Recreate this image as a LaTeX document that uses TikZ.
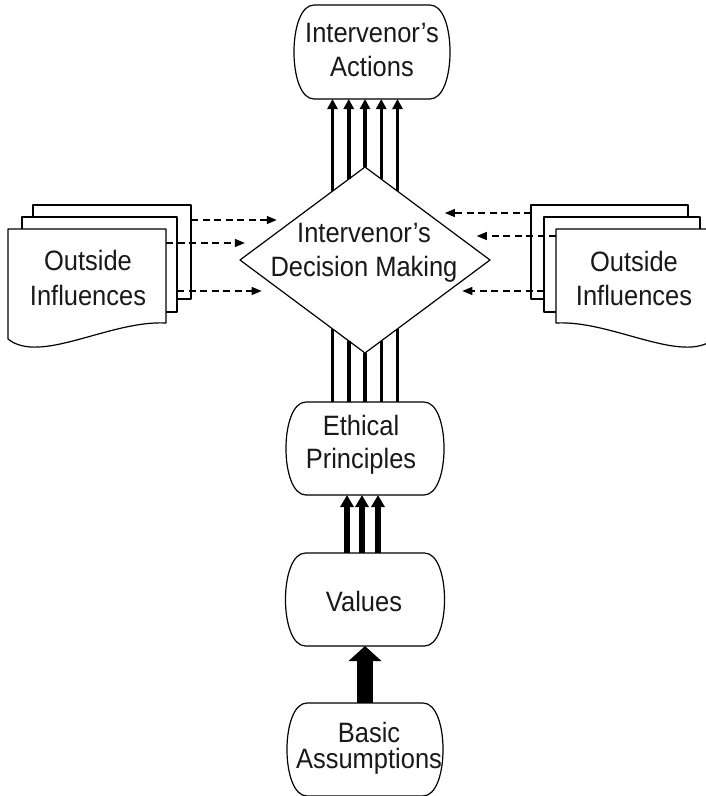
\documentclass[tikz,border=0pt]{standalone}
\usepackage{fontspec}
\setmainfont{Liberation Sans}[FakeStretch=0.91]
\usetikzlibrary{shapes.geometric,arrows.meta,calc}

% a text line whose box runs from cap height down to the baseline
\newcommand\capl[1]{\smash{#1}\rule{0pt}{20pt}}

% rounded "terminal" outline drawn around an empty frame node
\newcommand\termframe[1]{%
  \draw[frame] ([xshift=20pt]#1.north west) -- ([xshift=-20pt]#1.north east)
    .. controls ([xshift=6.7pt]#1.north east) and ([xshift=6.7pt]#1.south east) .. ([xshift=-20pt]#1.south east)
    -- ([xshift=20pt]#1.south west)
    .. controls ([xshift=-6.7pt]#1.south west) and ([xshift=-6.7pt]#1.north west) .. cycle;}

\begin{document}
\begin{tikzpicture}[x=1pt,y=-1pt,line join=round,
  box/.style={rectangle,draw=none,inner sep=0pt,outer sep=0pt},
  frame/.style={draw=black,line width=1.2pt,fill=white},
  sheet/.style={rectangle,draw=black,line width=1.2pt,fill=white,inner sep=0pt,outer sep=0pt},
  txt/.style={inner sep=0pt,outer sep=0pt,align=center,text=black!90,font=\fontsize{28}{34}\selectfont},
  up/.style={line width=3.5pt,-{Triangle[width=10pt,length=10pt]}},
  rail/.style={line width=3.5pt},
  fat/.style={line width=6pt,-{Triangle[width=13pt,length=12pt]}},
  heavy/.style={line width=16pt,-{Triangle[width=32pt,length=15pt]}},
  infl/.style={line width=1.3pt,dash pattern=on 7pt off 4.5pt,-{Triangle[width=8pt,length=10pt]}}
]
\clip (0,0) rectangle (706,796);

% ---- main column -------------------------------------------------
\node[box,minimum width=156pt,minimum height=94pt] (act) at (372,52) {};
\node[box,minimum width=158pt,minimum height=93pt] (eth) at (365,448.5) {};
\node[box,minimum width=159pt,minimum height=93pt] (val) at (365,599.5) {};
\node[box,minimum width=156pt,minimum height=93pt] (bas) at (365,749.5) {};
\termframe{act}
\termframe{eth}
\termframe{val}
\termframe{bas}

\node[diamond,draw=black,line width=1.2pt,fill=white,inner sep=0pt,outer sep=0pt,
      minimum width=250pt,minimum height=186pt] (dia) at (365,260) {};

\node[txt] (actT) at ([yshift=3pt]act.center) {\capl{Intervenor’s}\\\capl{Actions}};
\node[txt] (diaT) at ([xshift=-1pt,yshift=11pt]dia.center) {\capl{Intervenor’s}\\\capl{Decision Making}};
\node[txt,font=\fontsize{28}{33}\selectfont] (ethT) at ([xshift=-4pt,yshift=6.5pt]eth.center) {\capl{Ethical}\\\capl{Principles}};
\node[txt] (valT) at ([xshift=-1pt,yshift=-2pt]val.center) {\capl{Values}};
\node[txt,font=\fontsize{28}{26}\selectfont] (basT) at ([xshift=4pt,yshift=4pt]bas.center) {\capl{Basic}\\\capl{Assumptions}};

% ---- outside influences (stacked sheets) -----------------------
\node[sheet,minimum width=158pt,minimum height=94pt] (lb1) at (112,252) {};
\node[sheet,minimum width=155pt,minimum height=95pt] (lb2) at (99.5,264.5) {};
\node[box,minimum width=158pt,minimum height=110pt] (lf) at (87,284) {};
\draw[frame] (lf.north west) -- (lf.north east) -- ([yshift=16pt]lf.south east)
  .. controls ([xshift=-56pt,yshift=19pt]lf.south east) and ([xshift=32pt,yshift=-26pt]lf.south west) .. (lf.south west)
  -- cycle;
\node[txt,font=\fontsize{28}{35}\selectfont] (lfT) at ([xshift=1pt,yshift=6.5pt]lf.center) {\capl{Outside}\\\capl{Influences}};

\node[sheet,minimum width=157pt,minimum height=94pt] (rb1) at (609.5,252) {};
\node[sheet,minimum width=156pt,minimum height=95pt] (rb2) at (622,264.5) {};
\node[box,minimum width=158pt,minimum height=110pt] (rf) at (635,284) {};
\draw[frame] (rf.north west) -- (rf.north east) -- (rf.south east)
  .. controls ([xshift=-32pt,yshift=-26pt]rf.south east) and ([xshift=56pt,yshift=19pt]rf.south west) .. ([yshift=16pt]rf.south west)
  -- cycle;
\node[txt] (rfT) at ([xshift=-1pt,yshift=6pt]rf.center) {\capl{Outside}\\\capl{Influences}};

% ---- decision making -> actions ----------------------------------
\coordinate (t1) at ($(dia.north)!0.26!(dia.west)$);
\coordinate (t2) at ($(dia.north)!0.13!(dia.west)$);
\coordinate (t3) at (dia.north);
\coordinate (t4) at ($(dia.north)!0.13!(dia.east)$);
\coordinate (t5) at ($(dia.north)!0.26!(dia.east)$);
\foreach \i in {1,...,5} \draw[up] (t\i) -- (t\i |- act.south);

% ---- ethical principles feeding the decision ---------------------
\coordinate (b1) at ($(dia.south)!0.26!(dia.west)$);
\coordinate (b2) at ($(dia.south)!0.13!(dia.west)$);
\coordinate (b3) at (dia.south);
\coordinate (b4) at ($(dia.south)!0.13!(dia.east)$);
\coordinate (b5) at ($(dia.south)!0.26!(dia.east)$);
\foreach \i in {1,...,5} \draw[rail] (b\i |- eth.north) -- (b\i);

% ---- values -> ethical principles, assumptions -> values ---------
\foreach \d in {-18,-3,13} \draw[fat] ([xshift=\d pt]val.north) -- ([xshift=\d pt]eth.south);
\draw[heavy] (bas.north) -- (val.south);

% ---- outside influences -> decision making -----------------------
\coordinate (eL1) at ($(dia.west)!0.430!(dia.north)$);
\coordinate (eL2) at ($(dia.west)!0.183!(dia.north)$);
\coordinate (eL3) at ($(dia.west)!0.333!(dia.south)$);
\coordinate (eR1) at ($(dia.east)!0.505!(dia.north)$);
\coordinate (eR2) at ($(dia.east)!0.258!(dia.north)$);
\coordinate (eR3) at ($(dia.east)!0.333!(dia.south)$);
\draw[infl,shorten >=17pt] (eL1 -| lb1.east) -- (eL1);
\draw[infl,shorten >=18pt] (eL2 -| lf.east) -- (eL2);
\draw[infl,shorten >=20pt] (eL3 -| lb2.east) -- (eL3);
\draw[infl,shorten >=18pt] (eR1 -| rb1.west) -- (eR1);
\draw[infl,shorten >=19pt] (eR2 -| rf.west) -- (eR2);
\draw[infl,shorten >=14pt] (eR3 -| rb2.west) -- (eR3);
\end{tikzpicture}
\end{document}
